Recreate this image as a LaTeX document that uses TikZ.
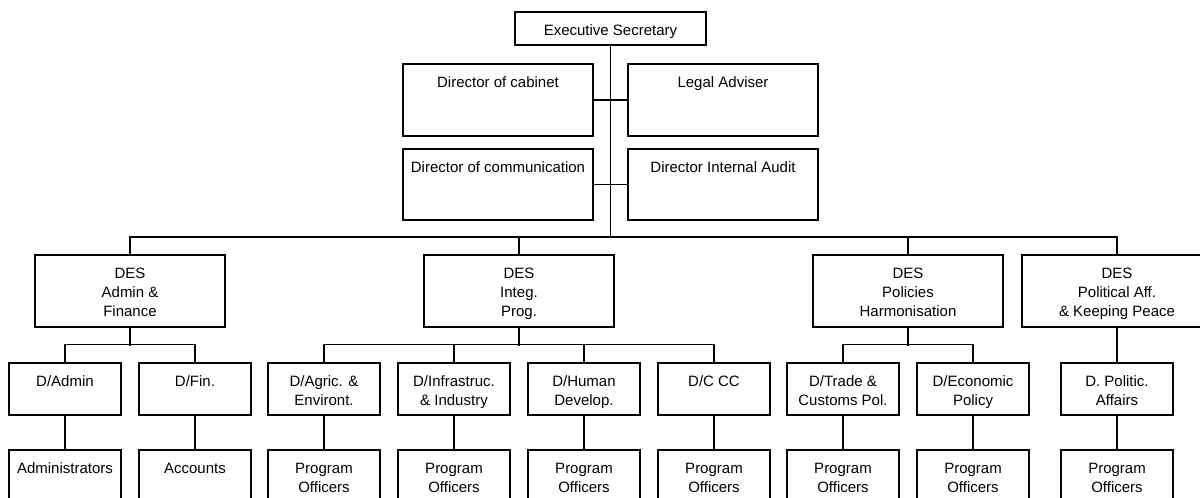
\documentclass[tikz,border=0pt]{standalone}
\usepackage{fontspec}
\setmainfont{Liberation Sans}
\newlength{\du}
\setlength{\du}{1pt}
% text sits at the top of each box
\newcommand{\boxtext}[3]{\parbox[c][#2\du][t]{#1\du}{\centering\vspace*{10\du}\strut#3\par}}

\begin{document}
\begin{tikzpicture}[line width=1.3\du,
  orgbox/.style={draw, rectangle, inner sep=0pt, font=\fontsize{15}{19}\selectfont}]
\pgftransformxscale{1.000000}
\pgftransformyscale{-1.000000}
\definecolor{dialinecolor}{rgb}{0.000000, 0.000000, 0.000000}
\pgfsetstrokecolor{dialinecolor}
\useasboundingbox (0\du,0\du) rectangle (1200\du,498\du);
\clip (0\du,0\du) rectangle (1200\du,498\du);
% top
\node[orgbox] (exsec) at (610.500000\du,28.500000\du){\boxtext{191}{33}{Executive Secretary}};
\node[orgbox] (cabinet) at (498.000000\du,100.000000\du){\boxtext{190}{72}{Director of cabinet}};
\node[orgbox] (legal) at (723.000000\du,100.000000\du){\boxtext{190}{72}{Legal Adviser}};
\node[orgbox] (comm) at (498.000000\du,184.500000\du){\boxtext{190}{71}{Director of communication}};
\node[orgbox] (audit) at (723.000000\du,184.500000\du){\boxtext{190}{71}{Director Internal Audit}};
\coordinate (bus) at (610.500000\du,237.000000\du);
\draw (exsec.south) -- (bus);
\draw (cabinet.east) -- (legal.west);
\draw (comm.east) -- (audit.west);
% deputies
\node[orgbox] (admfin) at (130.000000\du,291.000000\du){\boxtext{190}{72}{DES\\Admin \&\\Finance}};
\node[orgbox] (integ) at (519.000000\du,291.000000\du){\boxtext{190}{72}{DES\\Integ.\\Prog.}};
\node[orgbox] (polhar) at (908.000000\du,291.000000\du){\boxtext{190}{72}{DES\\Policies\\Harmonisation}};
\node[orgbox] (polaff) at (1117.000000\du,291.000000\du){\boxtext{190}{72}{DES\\Political Aff.\\\& Keeping Peace}};
\draw (admfin.north) |- (bus);
\draw (polaff.north) |- (bus);
\draw (integ.north) -- (integ.north |- bus);
\draw (polhar.north) -- (polhar.north |- bus);
% directors
\node[orgbox] (dadmin) at (65.000000\du,389.000000\du){\boxtext{112}{52}{D/Admin}};
\node[orgbox] (dfin) at (195.000000\du,389.000000\du){\boxtext{112}{52}{D/Fin.}};
\node[orgbox] (dagric) at (324.000000\du,389.000000\du){\boxtext{112}{52}{D/Agric. \&\\Environt.}};
\node[orgbox] (dinfra) at (454.000000\du,389.000000\du){\boxtext{112}{52}{D/Infrastruc.\\\& Industry}};
\node[orgbox] (dhuman) at (584.000000\du,389.000000\du){\boxtext{112}{52}{D/Human\\Develop.}};
\node[orgbox] (dccc) at (714.000000\du,389.000000\du){\boxtext{112}{52}{D/C CC}};
\node[orgbox] (dtrade) at (843.000000\du,389.000000\du){\boxtext{112}{52}{D/Trade \&\\Customs Pol.}};
\node[orgbox] (decon) at (973.000000\du,389.000000\du){\boxtext{112}{52}{D/Economic\\Policy}};
\node[orgbox] (dpolitic) at (1117.000000\du,389.000000\du){\boxtext{112}{52}{D. Politic.\\Affairs}};
\draw (admfin.south) -- ++(0,18\du);
\draw (dadmin.north) -- ++(0,-18\du) -| (dfin.north);
\draw (integ.south) -- ++(0,18\du);
\draw (dagric.north) -- ++(0,-18\du) -| (dccc.north);
\draw (dinfra.north) -- ++(0,-18\du);
\draw (dhuman.north) -- ++(0,-18\du);
\draw (polhar.south) -- ++(0,18\du);
\draw (dtrade.north) -- ++(0,-18\du) -| (decon.north);
\draw (polaff.south) -- (dpolitic.north);
% staff
\node[orgbox] (admins) at (65.000000\du,476.000000\du){\boxtext{112}{52}{Administrators}};
\node[orgbox] (accounts) at (195.000000\du,476.000000\du){\boxtext{112}{52}{Accounts}};
\node[orgbox] (poagric) at (324.000000\du,476.000000\du){\boxtext{112}{52}{Program\\Officers}};
\node[orgbox] (poinfra) at (454.000000\du,476.000000\du){\boxtext{112}{52}{Program\\Officers}};
\node[orgbox] (pohuman) at (584.000000\du,476.000000\du){\boxtext{112}{52}{Program\\Officers}};
\node[orgbox] (poccc) at (714.000000\du,476.000000\du){\boxtext{112}{52}{Program\\Officers}};
\node[orgbox] (potrade) at (843.000000\du,476.000000\du){\boxtext{112}{52}{Program\\Officers}};
\node[orgbox] (poecon) at (973.000000\du,476.000000\du){\boxtext{112}{52}{Program\\Officers}};
\node[orgbox] (popolitic) at (1117.000000\du,476.000000\du){\boxtext{112}{52}{Program\\Officers}};
\draw (dadmin.south) -- (admins.north);
\draw (dfin.south) -- (accounts.north);
\draw (dagric.south) -- (poagric.north);
\draw (dinfra.south) -- (poinfra.north);
\draw (dhuman.south) -- (pohuman.north);
\draw (dccc.south) -- (poccc.north);
\draw (dtrade.south) -- (potrade.north);
\draw (decon.south) -- (poecon.north);
\draw (dpolitic.south) -- (popolitic.north);
\end{tikzpicture}
\end{document}
